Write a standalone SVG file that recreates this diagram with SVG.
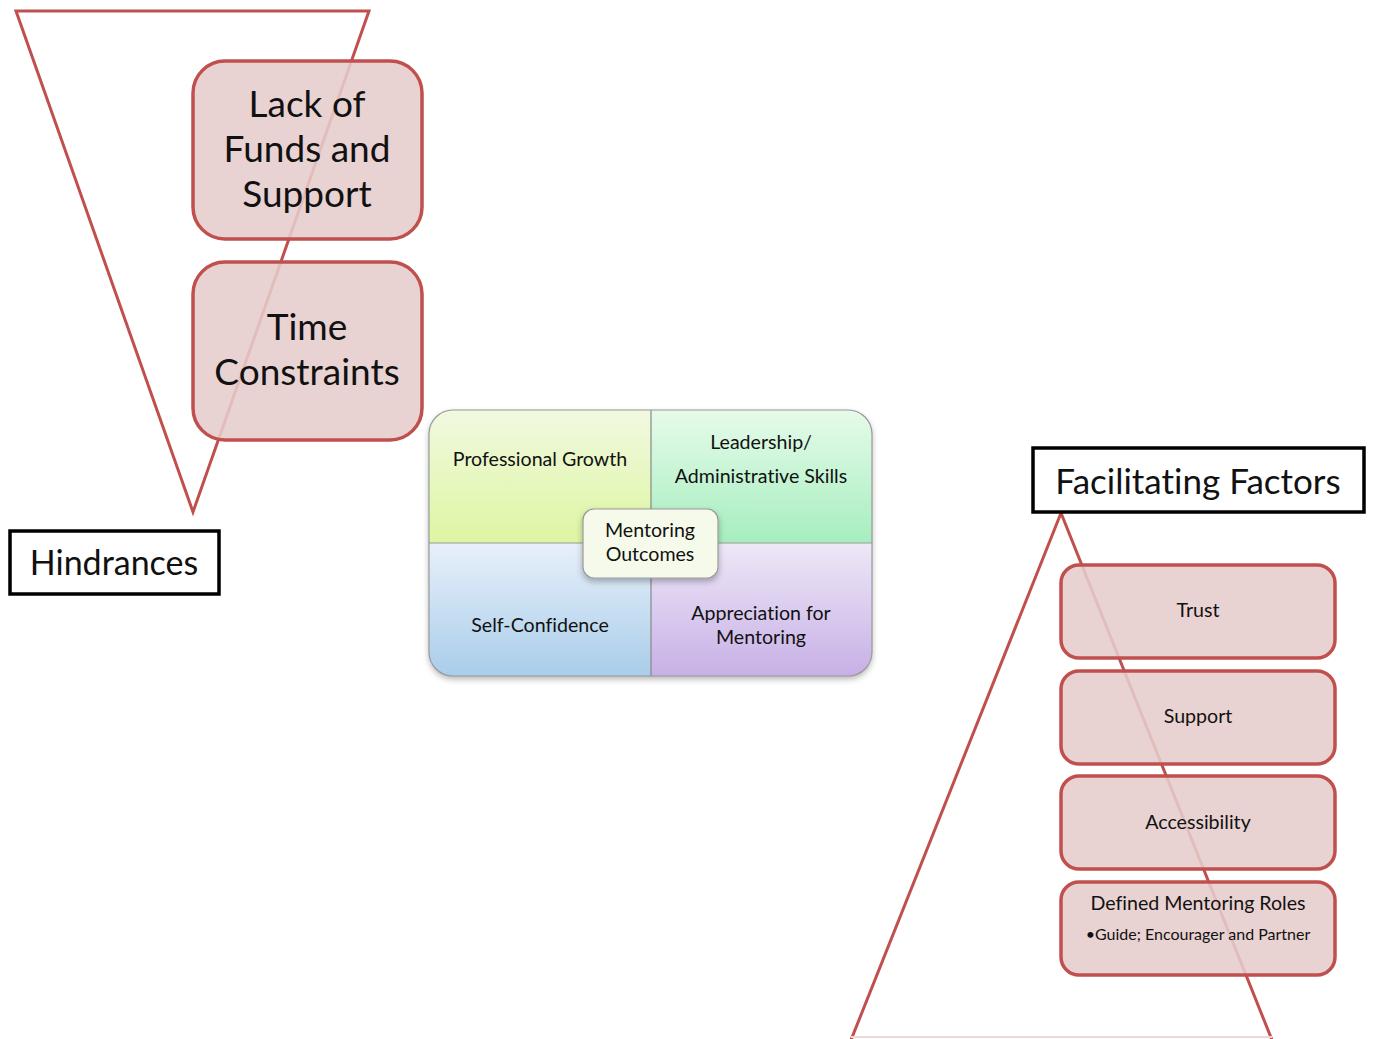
<svg xmlns="http://www.w3.org/2000/svg" width="1375" height="1039" viewBox="0 0 1375 1039">
<defs>
<linearGradient id="gTL" x1="0" y1="0" x2="0" y2="1"><stop offset="0" stop-color="#f1f9e0"/><stop offset="1" stop-color="#ddf6a2"/></linearGradient>
<linearGradient id="gTR" x1="0" y1="0" x2="0" y2="1"><stop offset="0" stop-color="#e6fbea"/><stop offset="1" stop-color="#a6eebf"/></linearGradient>
<linearGradient id="gBL" x1="0" y1="0" x2="0" y2="1"><stop offset="0" stop-color="#e8f0fa"/><stop offset="1" stop-color="#a9cdea"/></linearGradient>
<linearGradient id="gBR" x1="0" y1="0" x2="0" y2="1"><stop offset="0" stop-color="#eee8f7"/><stop offset="1" stop-color="#c7b0e6"/></linearGradient>
<clipPath id="matClip"><rect x="429" y="410" width="443" height="266" rx="24"/></clipPath>
<filter id="sh" x="-10%" y="-10%" width="120%" height="130%"><feDropShadow dx="0" dy="3" stdDeviation="3" flood-color="#000" flood-opacity="0.3"/></filter>
</defs>
<style>
text{font-family:Lato,"Open Sans","Liberation Sans",sans-serif;fill:#111;text-anchor:middle;font-variant-ligatures:none}
.tri{fill:none;stroke:#c0504d;stroke-width:3}
.rb{fill:#e6cccc;fill-opacity:0.88;stroke:#c0504d;stroke-width:3.5}
.lbl{fill:#fff;stroke:#000;stroke-width:3.5}
.big{font-size:37px}
.mid{font-size:19.6px}
</style>
<g id="connectors">
<polygon class="tri" points="16,11 369,11 193,512"/>
<polyline class="tri" points="851,1040 1061,513 1272,1040"/>
<line x1="851" y1="1037" x2="1272" y2="1037" stroke="#f0d8d8" stroke-width="2"/>
</g>
<g id="lack-funds">
<rect class="rb" x="193" y="61" width="229" height="178" rx="32"/>
<text class="big" x="307" y="117">Lack of</text>
<text class="big" x="307" y="162">Funds and</text>
<text class="big" x="307" y="207">Support</text>
</g>
<g id="time-constraints">
<rect class="rb" x="193" y="262" width="229" height="178" rx="32"/>
<text class="big" x="307" y="340">Time</text>
<text class="big" x="307" y="385">Constraints</text>
</g>
<g id="hindrances">
<rect class="lbl" x="10" y="531" width="209" height="63"/>
<text x="114" y="575" style="font-size:34px">Hindrances</text>
</g>
<g id="mentoring-matrix">
<rect x="429" y="410" width="443" height="266" rx="24" fill="#fff" filter="url(#sh)"/>
<g clip-path="url(#matClip)">
<rect x="429" y="410" width="222" height="133" fill="url(#gTL)"/>
<rect x="651" y="410" width="221" height="133" fill="url(#gTR)"/>
<rect x="429" y="543" width="222" height="133" fill="url(#gBL)"/>
<rect x="651" y="543" width="221" height="133" fill="url(#gBR)"/>
<line x1="651" y1="410" x2="651" y2="676" stroke="#888" stroke-width="1.2"/>
<line x1="429" y1="543" x2="872" y2="543" stroke="#999" stroke-width="1.2"/>
</g>
<rect x="429" y="410" width="443" height="266" rx="24" fill="none" stroke="#999" stroke-width="1.2"/>
<text class="mid" x="540" y="466">Professional Growth</text>
<text class="mid" x="761" y="449">Leadership/</text>
<text class="mid" x="761" y="483">Administrative Skills</text>
<text class="mid" x="540" y="632">Self-Confidence</text>
<text class="mid" x="761" y="620">Appreciation for</text>
<text class="mid" x="761" y="644">Mentoring</text>
</g>
<g id="mentoring-outcomes">
<rect x="583" y="509" width="135" height="69" rx="11" fill="#f5faea" stroke="#999" stroke-width="1.2" filter="url(#sh)"/>
<text class="mid" x="650" y="537">Mentoring</text>
<text class="mid" x="650" y="561">Outcomes</text>
</g>
<g id="facilitating-factors">
<rect class="lbl" x="1033" y="448" width="331" height="64"/>
<text x="1198" y="494" style="font-size:35px">Facilitating Factors</text>
</g>
<g id="trust">
<rect class="rb" x="1061" y="565" width="274" height="93" rx="18"/>
<text class="mid" x="1198" y="617">Trust</text>
</g>
<g id="support">
<rect class="rb" x="1061" y="671" width="274" height="93" rx="18"/>
<text class="mid" x="1198" y="723">Support</text>
</g>
<g id="accessibility">
<rect class="rb" x="1061" y="776" width="274" height="93" rx="18"/>
<text class="mid" x="1198" y="829">Accessibility</text>
</g>
<g id="defined-roles">
<rect class="rb" x="1061" y="882" width="274" height="93" rx="18"/>
<text class="mid" x="1198" y="910">Defined Mentoring Roles</text>
<text x="1198" y="940" style="font-size:16px">•Guide; Encourager and Partner</text>
</g>
</svg>
